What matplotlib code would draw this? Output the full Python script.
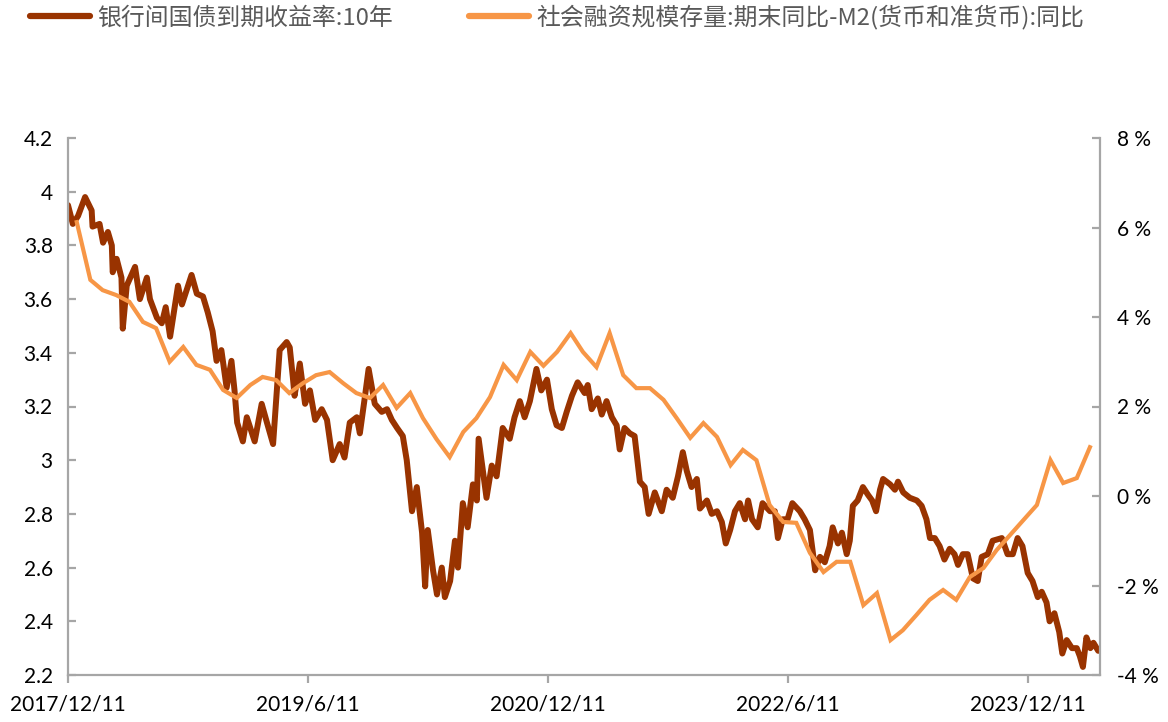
import matplotlib
matplotlib.use("Agg")
import matplotlib.pyplot as plt
import pandas as pd
import numpy as np

# ---------------- data ----------------
bond_dates = [
    "2017-12-11", "2017-12-22", "2018-01-03", "2018-01-19", "2018-02-03", "2018-02-05", "2018-02-21",
    "2018-03-01", "2018-03-12", "2018-03-21", "2018-03-23", "2018-04-01", "2018-04-12", "2018-04-15",
    "2018-04-24", "2018-05-13", "2018-05-24", "2018-06-09", "2018-06-16", "2018-07-02", "2018-07-13",
    "2018-07-22", "2018-08-01", "2018-08-19", "2018-08-28", "2018-09-19", "2018-10-01", "2018-10-15",
    "2018-10-26", "2018-11-06", "2018-11-15", "2018-11-26", "2018-12-08", "2018-12-19", "2018-12-26",
    "2019-01-01", "2019-01-14", "2019-01-23", "2019-02-10", "2019-02-26", "2019-03-10", "2019-03-24",
    "2019-04-08", "2019-04-24", "2019-05-01", "2019-05-08", "2019-05-12", "2019-05-24", "2019-06-05",
    "2019-06-16", "2019-06-28", "2019-07-13", "2019-07-25", "2019-08-07", "2019-08-23", "2019-09-03",
    "2019-09-15", "2019-10-01", "2019-10-08", "2019-10-19", "2019-10-28", "2019-11-11", "2019-11-27",
    "2019-12-09", "2019-12-20", "2020-01-01", "2020-01-14", "2020-01-23", "2020-02-04", "2020-02-15",
    "2020-02-27", "2020-03-05", "2020-03-11", "2020-03-23", "2020-04-01", "2020-04-12", "2020-04-19",
    "2020-05-01", "2020-05-12", "2020-05-19", "2020-05-30", "2020-06-10", "2020-06-22", "2020-07-01",
    "2020-07-05", "2020-07-14", "2020-07-23", "2020-08-04", "2020-08-15", "2020-08-29", "2020-09-14",
    "2020-09-25", "2020-10-07", "2020-10-18", "2020-10-30", "2020-11-14", "2020-11-25", "2020-12-08",
    "2020-12-19", "2020-12-30", "2021-01-11", "2021-01-22", "2021-02-03", "2021-02-16", "2021-03-04",
    "2021-03-11", "2021-03-20", "2021-04-03", "2021-04-12", "2021-04-23", "2021-05-05", "2021-05-16",
    "2021-05-23", "2021-06-03", "2021-06-15", "2021-06-26", "2021-07-08", "2021-07-19", "2021-07-28",
    "2021-08-11", "2021-08-27", "2021-09-07", "2021-09-21", "2021-10-03", "2021-10-14", "2021-10-23",
    "2021-11-03", "2021-11-15", "2021-11-22", "2021-12-08", "2021-12-19", "2021-12-31", "2022-01-11",
    "2022-01-20", "2022-01-30", "2022-02-10", "2022-02-21", "2022-03-05", "2022-03-12", "2022-03-21",
    "2022-04-03", "2022-04-14", "2022-05-01", "2022-05-12", "2022-05-19", "2022-05-30", "2022-06-10",
    "2022-06-21", "2022-07-08", "2022-07-19", "2022-07-31", "2022-08-12", "2022-08-23", "2022-09-03",
    "2022-09-14", "2022-09-21", "2022-10-03", "2022-10-12", "2022-10-23", "2022-10-30", "2022-11-06",
    "2022-11-17", "2022-11-29", "2022-12-11", "2022-12-20", "2022-12-29", "2023-01-07", "2023-01-14",
    "2023-01-30", "2023-02-10", "2023-02-17", "2023-03-01", "2023-03-16", "2023-04-01", "2023-04-12",
    "2023-04-23", "2023-05-01", "2023-05-12", "2023-05-23", "2023-06-03", "2023-06-15", "2023-06-26",
    "2023-07-04", "2023-07-15", "2023-07-26", "2023-08-07", "2023-08-18", "2023-08-27", "2023-09-10",
    "2023-09-21", "2023-10-12", "2023-10-25", "2023-11-06", "2023-11-17", "2023-11-28", "2023-12-10",
    "2023-12-21", "2024-01-02", "2024-01-11", "2024-01-22", "2024-01-29", "2024-02-09", "2024-02-20",
    "2024-02-27", "2024-03-08", "2024-03-20", "2024-03-31", "2024-04-07", "2024-04-14", "2024-04-22",
    "2024-05-01", "2024-05-08", "2024-05-19",
]
bond_yield = [
    3.95, 3.88, 3.91, 3.98, 3.93, 3.87, 3.88,
    3.81, 3.85, 3.80, 3.70, 3.75, 3.68, 3.49,
    3.65, 3.72, 3.60, 3.68, 3.60, 3.53, 3.51,
    3.57, 3.46, 3.65, 3.58, 3.69, 3.62, 3.61,
    3.55, 3.48, 3.37, 3.41, 3.27, 3.37, 3.26,
    3.14, 3.07, 3.16, 3.07, 3.21, 3.14, 3.06,
    3.41, 3.44, 3.42, 3.31, 3.24, 3.36, 3.21,
    3.26, 3.15, 3.19, 3.15, 3.00, 3.06, 3.01,
    3.14, 3.16, 3.10, 3.23, 3.34, 3.21, 3.18,
    3.19, 3.15, 3.12, 3.09, 3.00, 2.81, 2.90,
    2.73, 2.53, 2.74, 2.59, 2.50, 2.60, 2.49,
    2.55, 2.70, 2.60, 2.84, 2.75, 2.91, 2.85,
    3.08, 2.97, 2.86, 2.98, 2.94, 3.12, 3.08,
    3.16, 3.22, 3.16, 3.22, 3.34, 3.26, 3.30,
    3.19, 3.13, 3.12, 3.18, 3.24, 3.29, 3.25,
    3.28, 3.19, 3.23, 3.17, 3.22, 3.16, 3.13,
    3.04, 3.12, 3.10, 3.09, 2.92, 2.90, 2.80,
    2.88, 2.81, 2.89, 2.86, 2.94, 3.03, 2.96,
    2.90, 2.93, 2.82, 2.85, 2.80, 2.81, 2.77,
    2.69, 2.74, 2.81, 2.84, 2.78, 2.85, 2.78,
    2.75, 2.84, 2.81, 2.81, 2.71, 2.78, 2.78,
    2.84, 2.81, 2.78, 2.74, 2.59, 2.64, 2.62,
    2.68, 2.75, 2.69, 2.73, 2.65, 2.70, 2.83,
    2.85, 2.90, 2.87, 2.85, 2.81, 2.89, 2.93,
    2.91, 2.89, 2.92, 2.88, 2.86, 2.85, 2.83,
    2.78, 2.71, 2.71, 2.68, 2.63, 2.67, 2.65,
    2.61, 2.65, 2.65, 2.56, 2.55, 2.64, 2.65,
    2.70, 2.71, 2.65, 2.65, 2.71, 2.68, 2.58,
    2.55, 2.49, 2.51, 2.47, 2.40, 2.43, 2.36,
    2.28, 2.33, 2.30, 2.30, 2.27, 2.23, 2.34,
    2.30, 2.32, 2.29,
]

spread_start = "2017-12"
spread_pct = [
    6.12, 4.83, 4.60, 4.49, 4.34, 3.89, 3.75, 3.00, 3.33, 2.93, 2.82, 2.37, 2.19,
    2.48, 2.66, 2.59, 2.30, 2.52, 2.70, 2.77, 2.52, 2.30, 2.19, 2.48, 1.97,
    2.30, 1.74, 1.27, 0.87, 1.43, 1.74, 2.21, 2.93, 2.59, 3.22, 2.91, 3.22,
    3.64, 3.22, 2.88, 3.64, 2.70, 2.41, 2.41, 2.15, 1.74, 1.30, 1.63, 1.32,
    0.69, 1.03, 0.80, -0.20, -0.58, -0.60, -1.27, -1.70, -1.47, -1.47, -2.44, -2.17,
    -3.22, -3.00, -2.66, -2.32, -2.10, -2.32, -1.81, -1.61, -1.21, -0.87, -0.54, -0.20,
    0.80, 0.29, 0.40, 1.09,
]

label_bond = "银行间国债到期收益率:10年"
label_spread = "社会融资规模存量:期末同比-M2(货币和准货币):同比"

x_tick_dates = ["2017-12-11", "2019-06-11", "2020-12-11", "2022-06-11", "2023-12-11"]
x_tick_labels = ["2017/12/11", "2019/6/11", "2020/12/11", "2022/6/11", "2023/12/11"]
left_ticks = [2.2, 2.4, 2.6, 2.8, 3.0, 3.2, 3.4, 3.6, 3.8, 4.0, 4.2]
right_ticks = [-4, -2, 0, 2, 4, 6, 8]

# ---------------- style ----------------
BROWN = "#993300"
ORANGE = "#F79646"
SPINE = "#A6A6A6"
TICK_FONT = ["Lato", "DejaVu Sans"]
CJK_FONT = ["Noto Sans CJK SC", "DejaVu Sans"]

W, H = 1168, 722
fig = plt.figure(figsize=(W / 100, H / 100), dpi=100)
ax = fig.add_axes([68 / W, 47 / H, 1032 / W, 537 / H])
ax2 = ax.twinx()

bd = pd.to_datetime(bond_dates)
sd = pd.date_range(spread_start, periods=len(spread_pct), freq="ME")

l1, = ax.plot(bd, bond_yield, color=BROWN, lw=4.3, solid_joinstyle="round",
              solid_capstyle="round", label=label_bond)
l2, = ax2.plot(sd, spread_pct, color=ORANGE, lw=3.0, solid_joinstyle="miter",
               label=label_spread)

ax.set_xlim(pd.Timestamp("2017-12-11"), pd.Timestamp("2024-05-23"))
ax.set_ylim(2.2, 4.2)
ax2.set_ylim(-4, 8)

ax.set_xticks(pd.to_datetime(x_tick_dates))
ax.set_xticklabels(x_tick_labels)
ax.set_yticks(left_ticks)
ax.set_yticklabels([f"{v:g}" for v in left_ticks])
ax2.set_yticks(right_ticks)
ax2.set_yticklabels([f"{v:g} %" for v in right_ticks])

for a in (ax, ax2):
    for s in a.spines.values():
        s.set_visible(False)
ax2.spines["left"].set_visible(True)
ax2.spines["bottom"].set_visible(True)
ax2.spines["right"].set_visible(True)
for s in (ax2.spines["left"], ax2.spines["bottom"], ax2.spines["right"]):
    s.set_color(SPINE)
    s.set_linewidth(1.6)

ax.tick_params(axis="y", direction="in", length=6, width=1.6, color=SPINE, pad=11,
               labelsize=15, labelcolor="black")
ax.tick_params(axis="x", direction="out", length=6, width=1.6, color=SPINE, pad=8,
               labelsize=15, labelcolor="black")
ax2.tick_params(axis="y", direction="in", length=6, width=1.6, color=SPINE, pad=12,
                labelsize=15, labelcolor="black")
for lab in ax.get_xticklabels() + ax.get_yticklabels() + ax2.get_yticklabels():
    lab.set_family(TICK_FONT)

leg = fig.legend([l1, l2], [label_bond, label_spread], ncol=2, loc="center left",
                 bbox_to_anchor=(30 / W, 1 - 17 / H), frameon=False, borderpad=0,
                 borderaxespad=0, handlelength=2.5, handletextpad=0.3, columnspacing=3.2,
                 prop={"family": CJK_FONT, "size": 17.2})
for t in leg.get_texts():
    t.set_color("#595959")
for h in leg.legend_handles:
    h.set_linewidth(4.5)
    h.set_solid_capstyle("round")

fig.savefig("out.png", dpi=100)
